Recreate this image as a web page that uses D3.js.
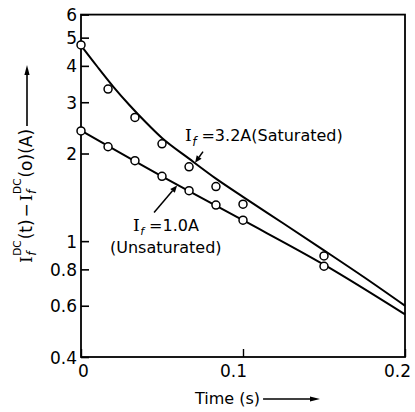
<!DOCTYPE html>
<html>
<head>
<meta charset="utf-8">
<script src="https://cdn.jsdelivr.net/npm/d3@7"></script>
<style>
  html, body { margin: 0; padding: 0; background: #fff; }
  svg { display: block; }
</style>
</head>
<body>
<script>
// Measured field-current decay, sampled once per 60 Hz cycle
const sampleTime = [0, 0.0167, 0.0333, 0.05, 0.0667, 0.0833, 0.1, 0.15];
const saturated = [4.72, 3.33, 2.66, 2.16, 1.80, 1.54, 1.34, 0.89];
const unsaturated = [2.39, 2.11, 1.89, 1.67, 1.49, 1.33, 1.18, 0.82];

// Fitted decay curves
const satFitTime = [0, 0.01, 0.02, 0.03, 0.04, 0.05, 0.0667, 0.0833, 0.1, 0.125, 0.15, 0.175, 0.2];
const satFit = [4.70, 3.98, 3.39, 2.93, 2.56, 2.26, 1.92, 1.64, 1.42, 1.15, 0.93, 0.75, 0.60];
const unsatFitTime = [0, 0.05, 0.1, 0.15, 0.2];
const unsatFit = [2.40, 1.67, 1.18, 0.83, 0.56];

// Axis ticks
const yTicks = [6, 5, 4, 3, 2, 1, 0.8, 0.6, 0.4];
const yTickLabels = ["6", "5", "4", "3", "2", "1", "0.8", "0.6", "0.4"];
const xTicks = [0, 0.1, 0.2];
const xTickLabels = ["0", "0.1", "0.2"];

const W = 415, H = 412;
const plot = { left: 81, right: 405, top: 14.6, bottom: 357 };
const SANS = "DejaVu Sans", SERIF = "DejaVu Serif";

const svg = d3.select("body").append("svg").attr("width", W).attr("height", H);

const x = d3.scaleLinear().domain([0, 0.2]).range([plot.left, plot.right]);
const y = d3.scaleLog().domain([0.4, 6]).range([plot.bottom, plot.top]);

// Left axis: inward ticks, labels to the left
const yAxis = svg.append("g")
  .attr("transform", `translate(${plot.left},0)`)
  .call(d3.axisLeft(y).tickValues(yTicks)
    .tickFormat((d, i) => yTickLabels[i])
    .tickSize(-8).tickSizeOuter(0).tickPadding(4));
yAxis.select(".domain").remove();
yAxis.selectAll(".tick line").attr("stroke", "#000").attr("stroke-width", 1.6);
yAxis.selectAll(".tick text")
  .attr("font-family", SANS).attr("font-size", 17).attr("fill", "#000")
  .attr("dy", "0.36em");

// Bottom axis
const xAxis = svg.append("g")
  .attr("transform", `translate(0,${plot.bottom})`)
  .call(d3.axisBottom(x).tickValues(xTicks)
    .tickFormat((d, i) => xTickLabels[i])
    .tickSize(-8).tickSizeOuter(0).tickPadding(8));
xAxis.select(".domain").remove();
xAxis.selectAll(".tick line").attr("stroke", "#000").attr("stroke-width", 1.4);
const xLabelShift = [2, -10, -8];
xAxis.selectAll(".tick text")
  .attr("font-family", SANS).attr("font-size", 17).attr("fill", "#000")
  .attr("dx", (d, i) => xLabelShift[i]);

// Plot frame
svg.append("rect")
  .attr("x", plot.left).attr("y", plot.top)
  .attr("width", plot.right - plot.left).attr("height", plot.bottom - plot.top)
  .attr("fill", "none").attr("stroke", "#000").attr("stroke-width", 1.8);

// Fitted curves
const line = d3.line().x(d => x(d[0])).y(d => y(d[1])).curve(d3.curveMonotoneX);
svg.append("path")
  .datum(satFitTime.map((t, i) => [t, satFit[i]]))
  .attr("d", line).attr("fill", "none").attr("stroke", "#000").attr("stroke-width", 2);
svg.append("path")
  .datum(unsatFitTime.map((t, i) => [t, unsatFit[i]]))
  .attr("d", line).attr("fill", "none").attr("stroke", "#000").attr("stroke-width", 2);

// Measured points
function drawPoints(values) {
  svg.append("g").selectAll("circle")
    .data(sampleTime.map((t, i) => [t, values[i]]))
    .join("circle")
    .attr("cx", d => x(d[0])).attr("cy", d => y(d[1])).attr("r", 4)
    .attr("fill", "#fff").attr("stroke", "#000").attr("stroke-width", 1.5);
}
drawPoints(saturated);
drawPoints(unsaturated);

// Lays out a run of text pieces (with sub/superscripts) and returns the end position
function rich(g, parts) {
  let cx = 0, prevStart = 0, prevW = 0;
  parts.forEach(p => {
    const t = g.append("text")
      .attr("y", p.dy || 0)
      .attr("font-size", p.size)
      .attr("font-family", p.serif ? SERIF : SANS)
      .attr("font-style", p.italic ? "italic" : null)
      .attr("fill", "#000")
      .text(p.text);
    const w = t.node().getComputedTextLength();
    if (p.stack) {
      t.attr("x", prevStart);
      cx = prevStart + Math.max(w, prevW) + (p.gap || 0);
    } else {
      cx += (p.gap || 0);
      t.attr("x", cx);
      prevStart = cx; prevW = w;
      cx += w;
    }
  });
  return cx;
}

function arrow(g, x1, y1, x2, y2, head = 8, half = 3.2, sw = 1.6) {
  const a = Math.atan2(y2 - y1, x2 - x1);
  const bx = x2 - head * Math.cos(a), by = y2 - head * Math.sin(a);
  g.append("line").attr("x1", x1).attr("y1", y1).attr("x2", bx).attr("y2", by)
    .attr("stroke", "#000").attr("stroke-width", sw);
  const px = -Math.sin(a) * half, py = Math.cos(a) * half;
  g.append("path")
    .attr("d", `M${x2},${y2}L${bx + px},${by + py}L${bx - px},${by - py}Z`)
    .attr("fill", "#000");
}

// Y axis title: I_f^DC(t) − I_f^DC(o)(A) →
const yTitle = svg.append("g").attr("transform", "translate(32,263) rotate(-90)");
const yEnd = rich(yTitle, [
  { text: "I", serif: true, size: 17 },
  { text: "f", italic: true, size: 12, dy: 4, gap: 0.5 },
  { text: "DC", size: 10.5, dy: -11, stack: true, gap: 1 },
  { text: "(t)", size: 17 },
  { text: "−", size: 17, gap: 2 },
  { text: "I", serif: true, size: 17, gap: 2 },
  { text: "f", italic: true, size: 12, dy: 4, gap: 0.5 },
  { text: "DC", size: 10.5, dy: -11, stack: true, gap: 1 },
  { text: "(o)(A)", size: 17 }
]);
arrow(yTitle, yEnd + 3, -5, 198, -5, 10, 2.6, 1.6);

// X axis title
const xTitle = svg.append("g").attr("transform", "translate(195,404)");
const xEnd = rich(xTitle, [{ text: "Time (s)", size: 16 }]);
arrow(xTitle, xEnd + 3, -5, 125, -5, 10, 2.6, 1.6);

// Curve labels with pointer arrows
const satLabel = svg.append("g").attr("transform", "translate(185,141)");
rich(satLabel, [
  { text: "I", serif: true, size: 17 },
  { text: "f", italic: true, size: 12, dy: 5, gap: 0.5 },
  { text: "=3.2A(Saturated)", size: 16, gap: 5 }
]);
arrow(svg, x(0.0704) + 8, y(1.86) - 11, x(0.0704), y(1.86), 7, 3, 1.5);

const unsatLabel = svg.append("g").attr("transform", "translate(133,231)");
rich(unsatLabel, [
  { text: "I", serif: true, size: 17 },
  { text: "f", italic: true, size: 11, dy: 3.5, gap: 0.5 },
  { text: "=1.0A", size: 16, gap: 5 }
]);
const unsatLabel2 = svg.append("g").attr("transform", "translate(110,253)");
rich(unsatLabel2, [{ text: "(Unsaturated)", size: 16 }]);
arrow(svg, x(0.0593) - 23, y(1.565) + 28, x(0.0593), y(1.565) + 1, 7, 3, 1.5);
</script>
</body>
</html>
